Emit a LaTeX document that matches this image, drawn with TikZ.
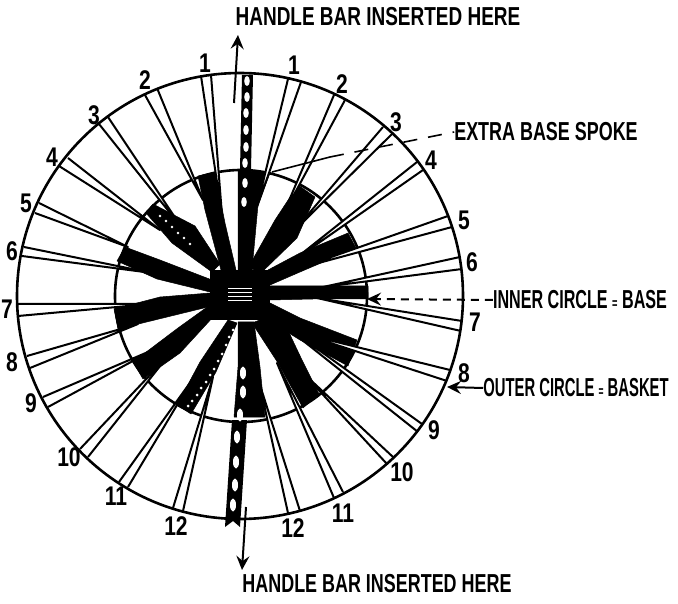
\documentclass[tikz,border=0pt]{standalone}
\usepackage{fontspec}
\setmainfont{Liberation Sans}
\usetikzlibrary{arrows.meta}
\tikzset {
  spoke style/.style = {
    line width=2pt,
    fill=white,
    draw=black,
    line join=round
  },
  wedge style/.style = {
    fill=black,
    draw=black,
    line width=0.5pt,
    line join=round
  },
  lettering/.style = {
    font=\bfseries\fontsize{26}{26}\selectfont,
    inner sep=0pt,
    transform shape,
    xscale=#1
  },
  numeral/.style = {
    font=\bfseries\fontsize{27}{27}\selectfont,
    inner sep=0pt,
    transform shape,
    xscale=0.78
  },
  leader tip/.style = {
    -{Stealth[length=14pt,width=13pt,inset=5pt]},
    line width=2pt
  }
}

\begin{document}
\begin{tikzpicture}[x=1pt,y=-1pt]
\useasboundingbox (0,0) rectangle (678,604);

\coordinate (Outer) at (240,296);
\coordinate (Inner) at (241,296);

% --- Inner circle ---
\draw[line width=2.6pt] (Inner) circle[radius=126];

% --- Black wedges, clockwise from the top left ---
\foreach \wedge in {
  {(198,176) -- (215,172) -- (225,223) -- (236,270) -- (221,270) -- (213,240) -- (205,210)},
  {(238,170) -- (270,173) -- (258,205) -- (252,270) -- (238,270) -- (238,205)},
  {(298,185) -- (315,197) -- (297,238) -- (262,272) -- (248,268) -- (275,220)},
  {(348,233) -- (356,248) -- (300,272) -- (270,285) -- (268,270) -- (300,253)},
  {(368,286) -- (368,299) -- (313,299) -- (270,300) -- (270,286) -- (313,286)},
  {(270,303) -- (300,318) -- (357,340) -- (348,366) -- (300,340) -- (268,320)},
  {(265,318) -- (284,322) -- (302,360) -- (319,394) -- (303,408) -- (278,363) -- (252,323)},
  {(238,322) -- (254,322) -- (260,367) -- (265,417) -- (234,417) -- (238,367)},
  {(228,320) -- (237,323) -- (216,372) -- (191,414) -- (177,405) -- (200,362)},
  {(210,305) -- (214,316) -- (180,353) -- (143,379) -- (133,362) -- (178,328)},
  {(210,293) -- (212,306) -- (163,318) -- (118,329) -- (114,309) -- (160,297)},
  {(125,247) -- (117,261) -- (157,279) -- (210,292) -- (212,280) -- (160,260)},
  {(153,204) -- (146,213) -- (172,243) -- (212,272) -- (220,264) -- (195,226)}
}{
  \filldraw[wedge style] \wedge -- cycle;
}

% --- Hub ---
\fill[black] (210,270) rectangle (270,320);
\foreach \y in {288,292,296,300} {
  \draw[white,line width=0.9pt] (228,\y) -- (252,\y);
}

% --- White dots in the two pale wedges ---
\foreach \x/\y in {160/216,166/221,172/227,178/233,184/238,190/244} {
  \fill[white] (\x,\y) circle[radius=1.3];
}
\foreach \x/\y in {188/406,192/401,197/395,201/388,206/382,210/375,214/369,218/361,222/354,226/345,229/337,233/330} {
  \fill[white] (\x,\y) circle[radius=1.5];
}

% --- Spoke pairs: rim point, tip, rim point ---
\foreach \ax/\ay/\tx/\ty/\bx/\by in {
  201/76/222/215/211/75,
  145/95/203/200/157/88,
  99/124/182/228/108/117,
  59/166/160/230/68/158,
  35/213/128/247/39/203,
  22/256/152/273/24/247,
  18/316/150/304/18/304,
  30/368/138/324/27/356,
  48/407/155/349/43/397,
  88/457/168/356/80/449,
  128/487/192/380/119/482,
  183/511/213/377/173/508,
  288/79/257/207/301/82,
  334/95/282/217/345/100,
  383/127/293/232/393/133,
  417/162/290/263/423/170,
  448/216/300/268/452/227,
  460/257/323/287/462/269,
  462/321/317/298/461/331,
  450/370/300/333/447/381,
  422/424/277/320/418/432,
  393/457/302/372/387/464,
  343/492/277/363/334/498,
  300/511/259/382/288/513
}{
  \filldraw[spoke style] (\ax,\ay) -- (\tx,\ty) -- (\bx,\by);
}

% --- Handle bar ---
\fill[black] (242,75) -- (253,75) -- (251,170) -- (250,268) -- (240,268) -- (240,170) -- cycle;
\fill[black] (232,420) -- (247,420) -- (240,527) -- (233,521) -- (225,527) -- cycle;
\foreach \x/\y in {247/81,247/97,246/113,246/130,246/147,245/163,245/183,244/202} {
  \fill[white] (\x,\y) circle[x radius=2.8,y radius=5];
}
\foreach \x/\y in {243/373,243/392,240/415,237/437,236/462,235/485,233/505} {
  \fill[white] (\x,\y) circle[x radius=3,y radius=6.5];
}

% --- Outer circle ---
\draw[line width=2.6pt] (Outer) circle[radius=223];

% --- Numbers round the rim ---
\foreach \lab/\x/\y/\name in {
  1/205/63/la, 2/145/80/lb, 3/94/115/lc, 4/52/157/ld, 5/26/203/le, 6/12/251/lf,
  7/7/309/lg, 8/12/362/lh, 9/31/403/li, 10/69/457/lj, 11/116/496/lk, 12/176/526/ll,
  1/294/65/ra, 2/342/84/rb, 3/396/122/rc, 4/431/160/rd, 5/464/220/re, 6/472/262/rf,
  7/475/322/rg, 8/464/373/rh, 9/434/430/ri, 10/402/472/rj, 11/343/513/rk, 12/293/528/rl
}{
  \node[numeral] (\name) at (\x,\y) {\lab};
}

% --- Labels ---
\node[lettering=0.73] (HandleTop) at (378,17) {HANDLE BAR INSERTED HERE};
\node[lettering=0.69] (HandleBottom) at (377,584) {HANDLE BAR INSERTED HERE};
\node[lettering=0.69] (ExtraSpoke) at (546,132) {EXTRA BASE SPOKE};
\node[lettering=0.62] (InnerLabel) at (580,300) {INNER CIRCLE {\fontsize{15}{15}\selectfont=} BASE};
\node[lettering=0.57] (OuterLabel) at (576,388) {OUTER CIRCLE {\fontsize{15}{15}\selectfont=} BASKET};

% --- Leaders and arrows ---
\coordinate (TopStart) at (234,103);
\coordinate (TopEnd) at (238,35);
\coordinate (BottomStart) at (246,507);
\coordinate (BottomEnd) at (242,570);
\coordinate (InnerTip) at (367,299);
\coordinate (OuterTip) at (447,387);
\coordinate (ExtraEnd) at (272,172);
\coordinate (ExtraKnee) at (330,157);

\draw[leader tip] (TopStart) -- (TopEnd);
\draw[leader tip] (BottomStart) -- (BottomEnd);
\draw[leader tip, dash pattern=on 8pt off 6pt] (InnerLabel.west) -- (InnerTip);
\draw[leader tip] (OuterLabel.west) -- (OuterTip);
\draw[line width=1.6pt] (ExtraEnd) -- (ExtraKnee);
\draw[line width=1.6pt, dash pattern=on 14pt off 11pt] (ExtraKnee) -- (ExtraSpoke.west);

\end{tikzpicture}
\end{document}
